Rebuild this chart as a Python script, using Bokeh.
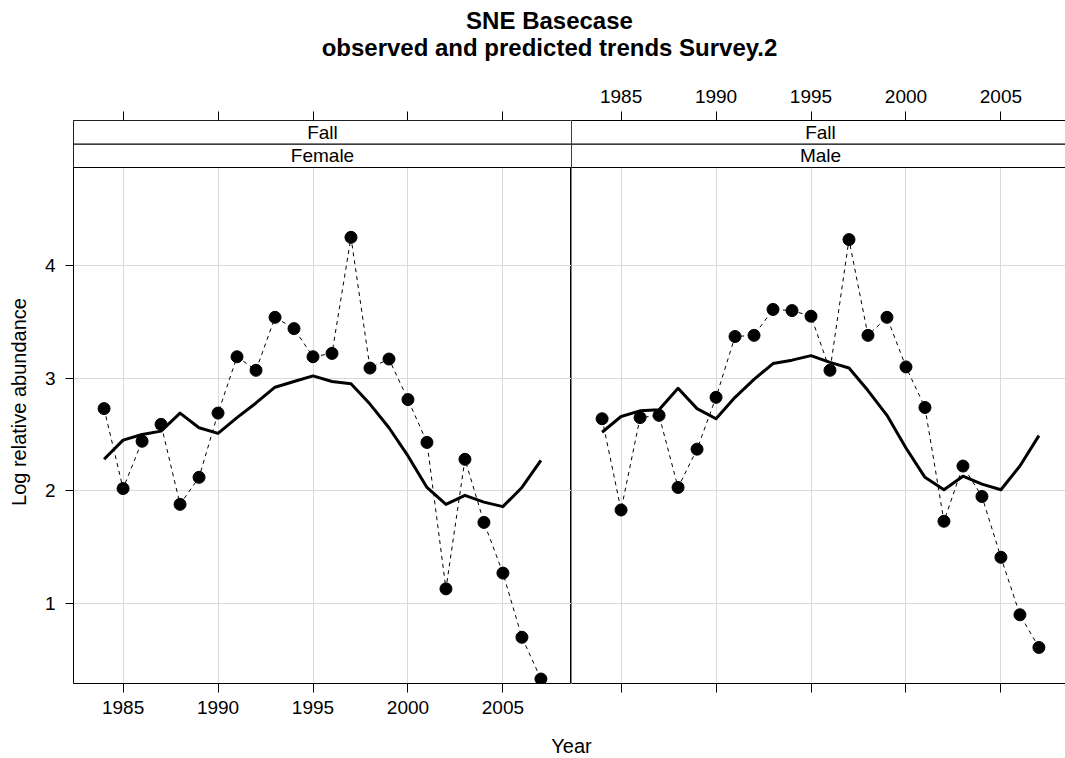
from bokeh.plotting import figure
from bokeh.models import (Range1d, FixedTicker, LinearAxis, Grid, Label, Span,
                          ColumnDataSource, CustomJSTickFormatter)
from bokeh.layouts import row, column
from bokeh.core.properties import value
from bokeh.embed import file_html
from bokeh.resources import INLINE

FONT = "Liberation Sans"

# ---------------- data ----------------
years = list(range(1984, 2008))
female_obs = [2.73, 2.02, 2.44, 2.59, 1.88, 2.12, 2.69, 3.19, 3.07, 3.54, 3.44, 3.19,
              3.22, 4.25, 3.09, 3.17, 2.81, 2.43, 1.13, 2.28, 1.72, 1.27, 0.70, 0.33]
female_pred = [2.28, 2.45, 2.50, 2.53, 2.69, 2.56, 2.51, 2.65, 2.78, 2.92, 2.97, 3.02,
               2.97, 2.95, 2.77, 2.56, 2.31, 2.03, 1.88, 1.96, 1.90, 1.86, 2.03, 2.27]
male_obs = [2.64, 1.83, 2.65, 2.67, 2.03, 2.37, 2.83, 3.37, 3.38, 3.61, 3.60, 3.55,
            3.07, 4.23, 3.38, 3.54, 3.10, 2.74, 1.73, 2.22, 1.95, 1.41, 0.90, 0.61]
male_pred = [2.52, 2.66, 2.71, 2.72, 2.91, 2.73, 2.64, 2.83, 2.99, 3.13, 3.16, 3.20,
             3.14, 3.09, 2.89, 2.67, 2.38, 2.12, 2.01, 2.13, 2.06, 2.01, 2.22, 2.49]
x_ticks = [1985, 1990, 1995, 2000, 2005]
y_ticks = [1, 2, 3, 4]
season = "Fall"
sexes = ["Female", "Male"]
title_lines = ["SNE Basecase", "observed and predicted trends Survey.2"]
x_label = "Year"
y_label = "Log relative abundance"

# ---------------- layout ----------------
PAGE_W = 1065
LEFT_W = 571
LEFT_BORDER = 73
RIGHT_W = PAGE_W - LEFT_W
TOP_B = 42
BOT_B = 43
PANEL_PX = 516
STRIP_PX = 47
ROW_H = TOP_B + PANEL_PX + STRIP_PX + BOT_B
TITLE_H = 78
FOOT_H = 32
TXT = "19px"
LAB = "20px"

span_x = max(years) - min(years)
xlo = min(years) - 0.07 * span_x
xhi = max(years) + 0.07 * span_x
px_per_year = (LEFT_W - LEFT_BORDER) / (xhi - xlo)
right_end = xlo + RIGHT_W / px_per_year

YLO, YHI = 0.29, 4.87
y_top = YHI + (YHI - YLO) * STRIP_PX / PANEL_PX
strip_h = (y_top - YHI) / 2

GRID_COL = "#d9d9d9"


def style_axis(ax):
    ax.major_tick_out = 8
    ax.major_tick_in = 0
    ax.minor_tick_line_color = None
    ax.major_tick_line_color = "black"
    ax.major_label_text_font = FONT
    ax.major_label_text_font_size = TXT
    ax.major_label_text_color = "black"
    ax.axis_label_text_font = FONT
    ax.axis_label_text_font_size = LAB
    ax.axis_label_text_font_style = "normal"
    ax.axis_label_text_color = "black"


def make_panel(sex, obs, pred, width, border_left, x_end, is_left):
    p = figure(width=width, height=ROW_H, x_range=Range1d(xlo, x_end),
               y_range=Range1d(YLO, y_top), x_axis_type=None, y_axis_type=None,
               toolbar_location=None, output_backend="svg",
               min_border_left=border_left, min_border_right=0,
               min_border_top=TOP_B, min_border_bottom=BOT_B,
               background_fill_color="white", border_fill_color="white",
               outline_line_color="black" if is_left else None)
    p.add_layout(Grid(dimension=0, ticker=FixedTicker(ticks=x_ticks),
                      grid_line_color=GRID_COL, grid_line_width=1))
    p.add_layout(Grid(dimension=1, ticker=FixedTicker(ticks=y_ticks),
                      grid_line_color=GRID_COL, grid_line_width=1))

    below = LinearAxis(ticker=FixedTicker(ticks=x_ticks))
    above = LinearAxis(ticker=FixedTicker(ticks=x_ticks))
    style_axis(below)
    style_axis(above)
    below.major_tick_out = 9
    above.major_tick_out = 9
    below.major_label_standoff = 8
    above.major_label_standoff = 9
    if is_left:
        above.formatter = CustomJSTickFormatter(code="return ''")
        below.axis_line_color = None
        above.axis_line_color = None
    else:
        below.formatter = CustomJSTickFormatter(code="return ''")
        below.axis_line_color = "black"
        above.axis_line_color = "black"
    p.add_layout(below, "below")
    p.add_layout(above, "above")

    if is_left:
        yax = LinearAxis(ticker=FixedTicker(ticks=y_ticks), axis_label=y_label)
        style_axis(yax)
        yax.axis_line_color = None
        yax.major_label_standoff = 10
        yax.axis_label_standoff = 12
        p.add_layout(yax, "left")
    else:
        p.add_layout(Span(location=xlo, dimension="height", line_color="black",
                          line_width=1))

    src = ColumnDataSource(dict(year=years, obs=obs, pred=pred))
    p.line("year", "obs", source=src, line_color="black", line_width=1,
           line_dash="4 4")
    p.scatter("year", "obs", source=src, size=12, fill_color="black",
              line_color="black")
    p.line("year", "pred", source=src, line_color="black", line_width=3,
           line_join="round")

    # strips
    strip_right = x_end + (1 if not is_left else 0)
    p.quad(left=[xlo, xlo], right=[strip_right, strip_right],
           bottom=[YHI, YHI + strip_h], top=[YHI + strip_h, y_top],
           fill_color="white", line_color="black", line_width=1)
    mid = (xlo + xhi) / 2
    p.text(x=[mid, mid], y=[YHI + 1.5 * strip_h, YHI + 0.5 * strip_h],
           text=[season, sex], text_font=value(FONT), text_font_size=TXT,
           text_align="center", text_baseline="middle", text_color="black")
    return p


left = make_panel(sexes[0], female_obs, female_pred, LEFT_W, LEFT_BORDER, xhi, True)
right = make_panel(sexes[1], male_obs, male_pred, RIGHT_W, 0, right_end, False)

# title
tfig = figure(width=PAGE_W, height=TITLE_H, x_range=Range1d(0, 1), y_range=Range1d(0, 1),
              x_axis_type=None, y_axis_type=None, toolbar_location=None,
              output_backend="svg", min_border=0, outline_line_color=None,
              background_fill_color="white", border_fill_color="white")
for i, txt in enumerate(title_lines):
    tfig.add_layout(Label(x=549, y=58 - 27 * i, x_units="screen", y_units="screen",
                          text=txt, text_font=FONT, text_font_size="24px",
                          text_font_style="bold", text_align="center",
                          text_baseline="middle", text_color="black"))

# footer (x axis label)
ffig = figure(width=PAGE_W, height=FOOT_H, x_range=Range1d(0, 1), y_range=Range1d(0, 1),
              x_axis_type=None, y_axis_type=None, toolbar_location=None,
              output_backend="svg", min_border=0, outline_line_color=None,
              background_fill_color="white", border_fill_color="white")
ffig.add_layout(Label(x=571, y=13, x_units="screen", y_units="screen", text=x_label,
                      text_font=FONT, text_font_size=LAB, text_align="center",
                      text_baseline="middle", text_color="black"))

layout = column(tfig, row(left, right, spacing=0), ffig, spacing=0)

open("out.html", "w").write(file_html(layout, INLINE))
